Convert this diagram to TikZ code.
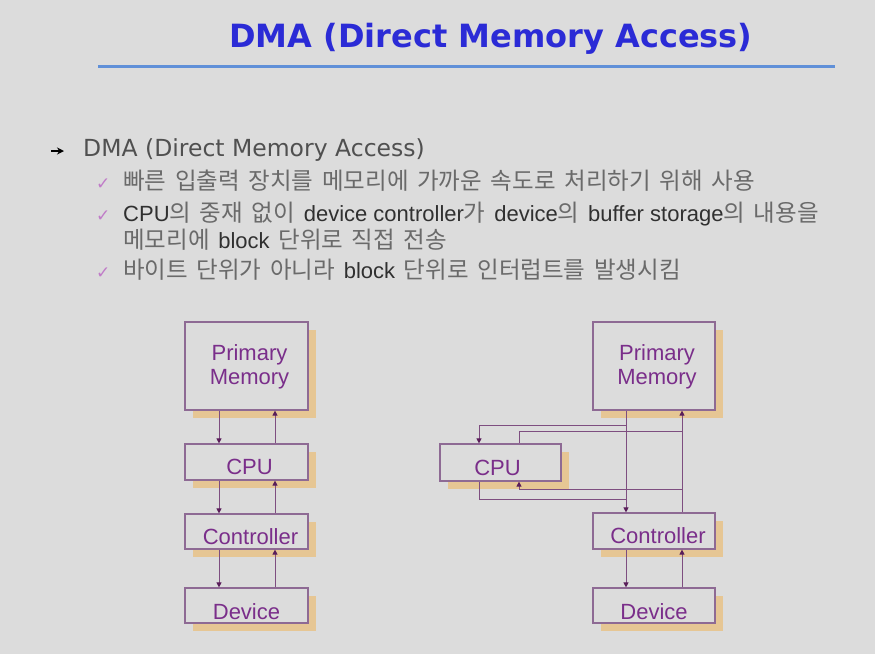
\documentclass[tikz,border=0pt]{standalone}
\usepackage{fontspec}
\setmainfont{Liberation Sans}
\newfontfamily\krfont[WordSpace=1.65]{Noto Sans CJK KR}
\newfontfamily\djfont{DejaVu Sans}
\usetikzlibrary{arrows.meta,shadows}
\definecolor{bg}{HTML}{DCDCDC}
\definecolor{titleblue}{HTML}{2B2BD6}
\definecolor{titleline}{HTML}{6090D8}
\definecolor{maintext}{HTML}{505050}
\definecolor{krc}{HTML}{6A6A6A}
\definecolor{latc}{HTML}{303030}
\definecolor{checkc}{HTML}{C07CC8}
\definecolor{boxc}{HTML}{8E6A94}
\definecolor{shadowc}{HTML}{E6C694}
\definecolor{labelc}{HTML}{7A2E8A}
\definecolor{linec}{HTML}{7E4E80}
\definecolor{headc}{HTML}{5A1E5A}
\newcommand\kt[1]{{\color{krc}\krfont\fontsize{23.5}{26}\selectfont #1}}
\newcommand\lt[1]{{\color{latc}#1}}
\tikzset{
  boxnode/.style={draw=boxc, line width=1.2pt, fill=bg, inner sep=0pt,
    drop shadow={shadow xshift=8pt, shadow yshift=-8pt, fill=shadowc, opacity=1}},
  lab/.style={font=\fontsize{22}{24}\selectfont, text=labelc, align=center, inner sep=0pt},
  arr/.style={draw=linec, line width=1pt, -{Triangle[length=5pt,width=5pt,color=headc]}},
  ln/.style={draw=linec, line width=1pt},
  sub/.style={anchor=base west, inner sep=0pt, font=\fontsize{22}{24}\selectfont},
  chk/.style={anchor=base west, inner sep=0pt, font=\djfont\fontsize{17}{18}\selectfont, text=checkc}
}
\begin{document}
\begin{tikzpicture}[x=1pt,y=-1pt]
\fill[bg] (0,0) rectangle (875,654);
\useasboundingbox (0,0) rectangle (875,654);
% title
\node[anchor=base, inner sep=0pt, font=\djfont\bfseries\fontsize{32}{36}\selectfont, text=titleblue] (title) at (491,47) {DMA (Direct Memory Access)};
\coordinate (tl1) at (98,66);
\coordinate (tl2) at (835,66);
\draw[titleline, line width=3pt] (tl1) -- (tl2);
% bullets
\coordinate (ba) at (51,151);
\coordinate (bb) at (64,151);
\draw[line width=1.3pt, -{Stealth[length=7pt,width=7pt]}] (ba) -- (bb);
\node[anchor=base west, inner sep=0pt, font=\djfont\fontsize{23.5}{26}\selectfont, text=maintext] (b0) at (83,156) {DMA (Direct Memory Access)};
\node[chk] (c1) at (96,189) {✓};
\node[sub] (s1) at (123,189) {\kt{빠른 입출력 장치를 메모리에 가까운 속도로 처리하기 위해 사용}};
\node[chk] (c2) at (96,221) {✓};
\node[sub] (s2) at (123,221) {\lt{CPU}\kt{의 중재 없이 }\lt{device controller}\kt{가 }\lt{device}\kt{의 }\lt{buffer storage}\kt{의 내용을}};
\node[sub] (s3) at (123,248) {\kt{메모리에 }\lt{block}\kt{\ 단위로 직접 전송}};
\node[chk] (c4) at (96,278) {✓};
\node[sub] (s4) at (123,278) {\kt{바이트 단위가 아니라 }\lt{block}\kt{\ 단위로 인터럽트를 발생시킴}};
% left diagram
\node[boxnode, minimum width=123pt, minimum height=88pt,
  label={[lab, xshift=3pt, yshift=-1pt]center:Primary\\Memory}] (lmem) at (246.5,366) {};
\node[boxnode, minimum width=123pt, minimum height=36pt,
  label={[lab, xshift=3pt, yshift=-5pt]center:CPU}] (lcpu) at (246.5,462) {};
\node[boxnode, minimum width=123pt, minimum height=35pt,
  label={[lab, xshift=4pt, yshift=-5pt]center:Controller}] (lctl) at (246.5,531.5) {};
\node[boxnode, minimum width=123pt, minimum height=35pt,
  label={[lab, xshift=0pt, yshift=-6pt]center:Device}] (ldev) at (246.5,605.5) {};
\coordinate (lx1) at (219,0);
\coordinate (lx2) at (275,0);
\draw[arr] (lmem.south -| lx1) -- (lcpu.north -| lx1);
\draw[arr] (lcpu.north -| lx2) -- (lmem.south -| lx2);
\draw[arr] (lcpu.south -| lx1) -- (lctl.north -| lx1);
\draw[arr] (lctl.north -| lx2) -- (lcpu.south -| lx2);
\draw[arr] (lctl.south -| lx1) -- (ldev.north -| lx1);
\draw[arr] (ldev.north -| lx2) -- (lctl.south -| lx2);
% right diagram
\node[boxnode, minimum width=122pt, minimum height=88pt,
  label={[lab, xshift=3pt, yshift=-1pt]center:Primary\\Memory}] (rmem) at (654,366) {};
\node[boxnode, minimum width=121pt, minimum height=37pt,
  label={[lab, xshift=-3pt, yshift=-5pt]center:CPU}] (rcpu) at (500.5,462.5) {};
\node[boxnode, minimum width=122pt, minimum height=36pt,
  label={[lab, xshift=4pt, yshift=-5pt]center:Controller}] (rctl) at (654,531) {};
\node[boxnode, minimum width=122pt, minimum height=35pt,
  label={[lab, xshift=0pt, yshift=-6pt]center:Device}] (rdev) at (654,605.5) {};
\coordinate (rx1) at (626,0);
\coordinate (rx2) at (682,0);
\coordinate (rx3) at (479,0);
\coordinate (rx4) at (519,0);
\coordinate (ry1) at (0,425);
\coordinate (ry2) at (0,431);
\coordinate (ry3) at (0,489);
\coordinate (ry4) at (0,499);
\draw[arr] (rmem.south -| rx1) -- (rctl.north -| rx1);
\draw[arr] (rctl.north -| rx2) -- (rmem.south -| rx2);
\draw[arr] (rx1 |- ry1) -| (rcpu.north -| rx3);
\draw[ln] (rcpu.north -| rx4) |- (rx2 |- ry2);
\draw[arr] (rx2 |- ry3) -| (rcpu.south -| rx4);
\draw[ln] (rcpu.south -| rx3) |- (rx1 |- ry4);
\draw[arr] (rctl.south -| rx1) -- (rdev.north -| rx1);
\draw[arr] (rdev.north -| rx2) -- (rctl.south -| rx2);
\end{tikzpicture}
\end{document}
